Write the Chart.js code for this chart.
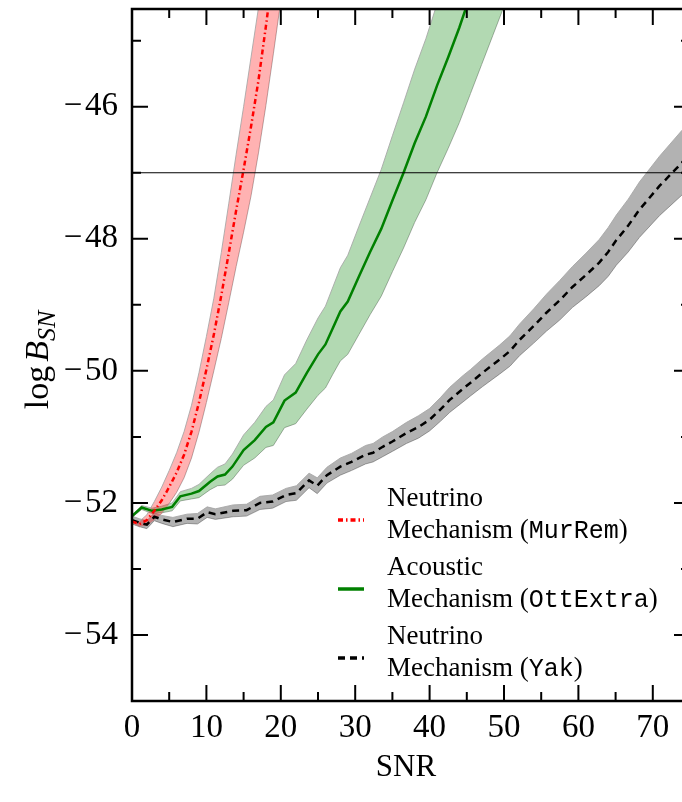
<!DOCTYPE html>
<html>
<head>
<meta charset="utf-8">
<title>log B_SN against SNR</title>
<script src="https://cdn.jsdelivr.net/npm/chart.js@4.4.1/dist/chart.umd.min.js"></script>
<style>
  html, body { margin: 0; padding: 0; background: #fff; overflow: hidden; }
  #wrap { position: relative; width: 700px; height: 802px; }
</style>
</head>
<body>
<div id="wrap"><canvas id="bayes" width="700" height="802"></canvas></div>
<script>
'use strict';

// ── Data ────────────────────────────────────────────────────────────────────

// Neutrino mechanism (MurRem): median log B and half-width of the band
var murremSnr    = [0, 1, 2, 3, 4, 5, 6, 7, 8, 9, 10, 11, 12, 13, 14, 15, 16, 17, 18, 19, 20, 21];
var murremLogB   = [-52.28, -52.32, -52.26, -52.12, -51.96, -51.76, -51.54, -51.27, -50.92, -50.48, -49.98,
                    -49.45, -48.86, -48.22, -47.57, -46.95, -46.30, -45.60, -44.78, -43.90, -43.00, -42.00];
var murremSpread = [0.02, 0.04, 0.08, 0.14, 0.20, 0.25, 0.30, 0.35, 0.40, 0.45, 0.50,
                    0.55, 0.65, 0.75, 0.85, 0.95, 1.05, 1.10, 1.20, 1.30, 1.40, 1.50];

// Acoustic mechanism (OttExtra): median, distance to upper and lower band edge
var ottSnr  = [0, 1.3, 2.7, 4, 5.4, 6.5, 8, 9, 10.5, 11.5, 12.5, 13.5, 15, 16.5, 18, 19, 20.5, 22, 23.5, 25,
               26, 27, 28, 29, 30.5, 32, 33.5, 35, 36.5, 38, 39.5, 41, 42.5, 44, 45.5, 47, 48.5, 50];
var ottLogB = [-52.20, -52.07, -52.12, -52.10, -52.06, -51.90, -51.86, -51.82, -51.68, -51.60,
               -51.57, -51.45, -51.20, -51.05, -50.85, -50.78, -50.45, -50.33, -50.03, -49.75,
               -49.60, -49.35, -49.10, -48.95, -48.57, -48.20, -47.85, -47.42, -47.00, -46.55,
               -46.15, -45.68, -45.25, -44.80, -44.30, -43.80, -43.30, -42.80];
var ottUp   = [0.02, 0.03, 0.04, 0.05, 0.06, 0.07, 0.08, 0.10, 0.12, 0.14,
               0.16, 0.19, 0.23, 0.27, 0.31, 0.34, 0.39, 0.44, 0.50, 0.55,
               0.58, 0.62, 0.66, 0.70, 0.76, 0.82, 0.90, 0.98, 1.06, 1.12,
               1.18, 1.24, 1.30, 1.36, 1.42, 1.48, 1.54, 1.60];
var ottDown = [0.02, 0.03, 0.04, 0.05, 0.06, 0.07, 0.08, 0.10, 0.12, 0.14,
               0.16, 0.19, 0.23, 0.27, 0.31, 0.35, 0.41, 0.47, 0.55, 0.62,
               0.66, 0.70, 0.75, 0.80, 0.88, 0.95, 1.02, 1.08, 1.14, 1.20,
               1.26, 1.32, 1.38, 1.44, 1.50, 1.56, 1.62, 1.68];

// Neutrino mechanism (Yak): median log B and half-width of the band
var yakSnr    = [0, 1, 2, 3, 4, 5.5, 7.4, 8.8, 10.1, 11.2, 13.6, 15.4, 17.2, 18.9, 20.7, 22.1, 23.8, 24.9,
                 26.2, 28, 29.5, 31.4, 32.4, 33.7, 35, 36.9, 38.5, 40, 41.5, 42.7, 44.5, 45.5, 47.1, 49.4,
                 50.8, 52.1, 54, 55.7, 57.5, 59.2, 61, 62.8, 64, 65.1, 66.7, 68.2, 70.9, 73.9, 76];
var yakLogB   = [-52.26, -52.30, -52.33, -52.21, -52.25, -52.29, -52.24, -52.24, -52.14, -52.17,
                 -52.12, -52.11, -52.00, -51.98, -51.88, -51.85, -51.66, -51.74, -51.58, -51.45,
                 -51.38, -51.27, -51.24, -51.15, -51.07, -50.94, -50.85, -50.74, -50.58, -50.44,
                 -50.27, -50.18, -50.03, -49.83, -49.70, -49.53, -49.32, -49.12, -48.93, -48.73,
                 -48.55, -48.36, -48.20, -48.02, -47.80, -47.56, -47.20, -46.85, -46.55];
var yakSpread = [0.06, 0.06, 0.06, 0.06, 0.06, 0.07, 0.07, 0.08, 0.08, 0.08,
                 0.09, 0.09, 0.10, 0.10, 0.10, 0.11, 0.11, 0.12, 0.12, 0.13,
                 0.13, 0.14, 0.14, 0.15, 0.15, 0.16, 0.17, 0.17, 0.18, 0.19,
                 0.20, 0.20, 0.21, 0.22, 0.23, 0.24, 0.26, 0.28, 0.30, 0.31,
                 0.33, 0.35, 0.37, 0.38, 0.40, 0.42, 0.45, 0.49, 0.52];

// Detection threshold
var thresholdSnr  = [0, 75];
var thresholdLogB = [-47, -47];

// Axes
var snrRange   = [0, 75];
var logBRange  = [-55, -44.52];
var xMajorTicks = [0, 10, 20, 30, 40, 50, 60, 70];
var xMinorTicks = [5, 15, 25, 35, 45, 55, 65, 75];
var yMajorTicks = [-54, -52, -50, -48, -46];
var yMinorTicks = [-55, -53, -51, -49, -47, -45];

var legendNames = [
    ['Neutrino', 'Mechanism', 'MurRem'],
    ['Acoustic', 'Mechanism', 'OttExtra'],
    ['Neutrino', 'Mechanism', 'Yak']
];

// ── Helpers ─────────────────────────────────────────────────────────────────

var SERIF = '"Liberation Serif", "Times New Roman", serif';
var MONO  = '"Liberation Mono", "DejaVu Sans Mono", monospace';

function points(xs, ys) {
    return xs.map(function (x, i) { return { x: x, y: ys[i] }; });
}
function offset(ys, d, sign) {
    return ys.map(function (y, i) { return y + sign * d[i]; });
}

var EDGE = 'rgba(165, 165, 165, 0.85)';

var STYLES = [
    { line: '#ff0000', band: 'rgba(255, 0, 0, 0.3)',   dash: [5, 3, 1.5, 3], width: 2.5 },
    { line: '#008000', band: 'rgba(0, 128, 0, 0.3)',   dash: [],             width: 2.5 },
    { line: '#000000', band: 'rgba(0, 0, 0, 0.3)',     dash: [7, 5],         width: 2.5 }
];

function bandEdge(data, fill, order) {
    return {
        data: data, borderColor: EDGE, borderWidth: 1, pointRadius: 0,
        fill: fill, backgroundColor: 'transparent', order: order, clip: 0
    };
}

var datasets = [];
function addSeries(snr, median, up, down, style) {
    var i = datasets.length;
    var upper = bandEdge(points(snr, offset(median, up, 1)), { target: i + 1 }, 3);
    upper.backgroundColor = style.band;
    datasets.push(upper);
    datasets.push(bandEdge(points(snr, offset(median, down, -1)), false, 3));
    datasets.push({
        data: points(snr, median), borderColor: style.line, borderWidth: style.width,
        borderDash: style.dash, pointRadius: 0, fill: false, order: 1, clip: 0
    });
}

addSeries(murremSnr, murremLogB, murremSpread, murremSpread, STYLES[0]);
addSeries(ottSnr, ottLogB, ottUp, ottDown, STYLES[1]);
addSeries(yakSnr, yakLogB, yakSpread, yakSpread, STYLES[2]);

datasets.push({
    data: points(thresholdSnr, thresholdLogB), borderColor: '#000', borderWidth: 1,
    pointRadius: 0, fill: false, order: 0, clip: 0
});

// ── Frame, inward ticks, axis titles and legend ─────────────────────────────

var decorations = {
    id: 'decorations',
    afterDatasetsDraw: function (chart) {
        var ctx = chart.ctx, a = chart.chartArea;
        var xs = chart.scales.x, ys = chart.scales.y;
        ctx.save();

        ctx.strokeStyle = '#000';
        ctx.lineWidth = 2;
        ctx.beginPath();
        function xTick(v, len) {
            var px = xs.getPixelForValue(v);
            ctx.moveTo(px, a.bottom); ctx.lineTo(px, a.bottom - len);
            ctx.moveTo(px, a.top);    ctx.lineTo(px, a.top + len);
        }
        function yTick(v, len) {
            var py = ys.getPixelForValue(v);
            ctx.moveTo(a.left, py);  ctx.lineTo(a.left + len, py);
            ctx.moveTo(a.right, py); ctx.lineTo(a.right - len, py);
        }
        xMajorTicks.forEach(function (v) { xTick(v, 16); });
        xMinorTicks.forEach(function (v) { xTick(v, 9); });
        yMajorTicks.forEach(function (v) { yTick(v, 16); });
        yMinorTicks.forEach(function (v) { yTick(v, 9); });
        ctx.stroke();

        ctx.lineWidth = 2.5;
        ctx.strokeRect(a.left, a.top, a.right - a.left, a.bottom - a.top);

        // x title
        ctx.fillStyle = '#000';
        ctx.textAlign = 'center';
        ctx.textBaseline = 'alphabetic';
        ctx.font = '31px ' + SERIF;
        ctx.fillText('SNR', 406, 776);

        // y title: log B_SN, rotated
        ctx.save();
        ctx.textAlign = 'left';
        ctx.font = '34px ' + SERIF;
        var wLog = ctx.measureText('log').width + 4;
        ctx.font = 'italic 34px ' + SERIF;
        var wB = ctx.measureText('B').width;
        ctx.font = 'italic 26px ' + SERIF;
        var wSN = ctx.measureText('SN').width;
        ctx.translate(48, 360 + (wLog + wB + wSN) / 2);
        ctx.rotate(-Math.PI / 2);
        ctx.font = '34px ' + SERIF;
        ctx.fillText('log', 0, 0);
        ctx.font = 'italic 34px ' + SERIF;
        ctx.fillText('B', wLog, 0);
        ctx.font = 'italic 26px ' + SERIF;
        ctx.fillText('SN', wLog + wB, 7);
        ctx.restore();

        // legend
        ctx.textAlign = 'left';
        legendNames.forEach(function (name, i) {
            var base = 506 + i * 69;
            var st = STYLES[i];
            ctx.font = '27px ' + SERIF;
            ctx.fillText(name[0], 387, base);
            var second = name[1] + ' (';
            ctx.fillText(second, 387, base + 32);
            var x = 387 + ctx.measureText(second).width;
            ctx.font = '25px ' + MONO;
            ctx.fillText(name[2], x, base + 32);
            x += ctx.measureText(name[2]).width;
            ctx.font = '27px ' + SERIF;
            ctx.fillText(')', x, base + 32);

            ctx.strokeStyle = st.line;
            ctx.lineWidth = 3.5;
            ctx.setLineDash(st.dash);
            ctx.beginPath();
            ctx.moveTo(338, base + 14);
            ctx.lineTo(364, base + 14);
            ctx.stroke();
            ctx.setLineDash([]);
        });

        ctx.restore();
    }
};

// ── Chart ───────────────────────────────────────────────────────────────────

function minus(v) {
    return v < 0 ? '\u2212\u200A' + Math.abs(v) : String(v);
}

new Chart(document.getElementById('bayes').getContext('2d'), {
    type: 'line',
    data: { datasets: datasets },
    options: {
        responsive: false,
        animation: false,
        events: [],
        layout: { padding: { top: 9, right: 10, left: 0, bottom: 0 } },
        plugins: {
            legend: { display: false },
            tooltip: { enabled: false },
            filler: { propagate: false }
        },
        elements: { line: { tension: 0 } },
        scales: {
            x: {
                type: 'linear',
                min: snrRange[0], max: snrRange[1],
                grid: { display: false, drawTicks: false },
                border: { display: false },
                ticks: {
                    color: '#000', padding: 8,
                    font: { family: SERIF, size: 33 },
                    callback: minus
                },
                afterBuildTicks: function (s) {
                    s.ticks = xMajorTicks.map(function (v) { return { value: v }; });
                },
                afterFit: function (s) {
                    s.height = 101;
                    s.paddingLeft = 0; s.paddingRight = 0;
                }
            },
            y: {
                type: 'linear',
                min: logBRange[0], max: logBRange[1],
                grid: { display: false, drawTicks: false },
                border: { display: false },
                ticks: {
                    color: '#000', padding: 14,
                    font: { family: SERIF, size: 33 },
                    callback: minus
                },
                afterBuildTicks: function (s) {
                    s.ticks = yMajorTicks.map(function (v) { return { value: v }; });
                },
                afterFit: function (s) {
                    s.width = 132;
                    s.paddingTop = 0; s.paddingBottom = 0;
                }
            }
        }
    },
    plugins: [decorations]
});
</script>
</body>
</html>
